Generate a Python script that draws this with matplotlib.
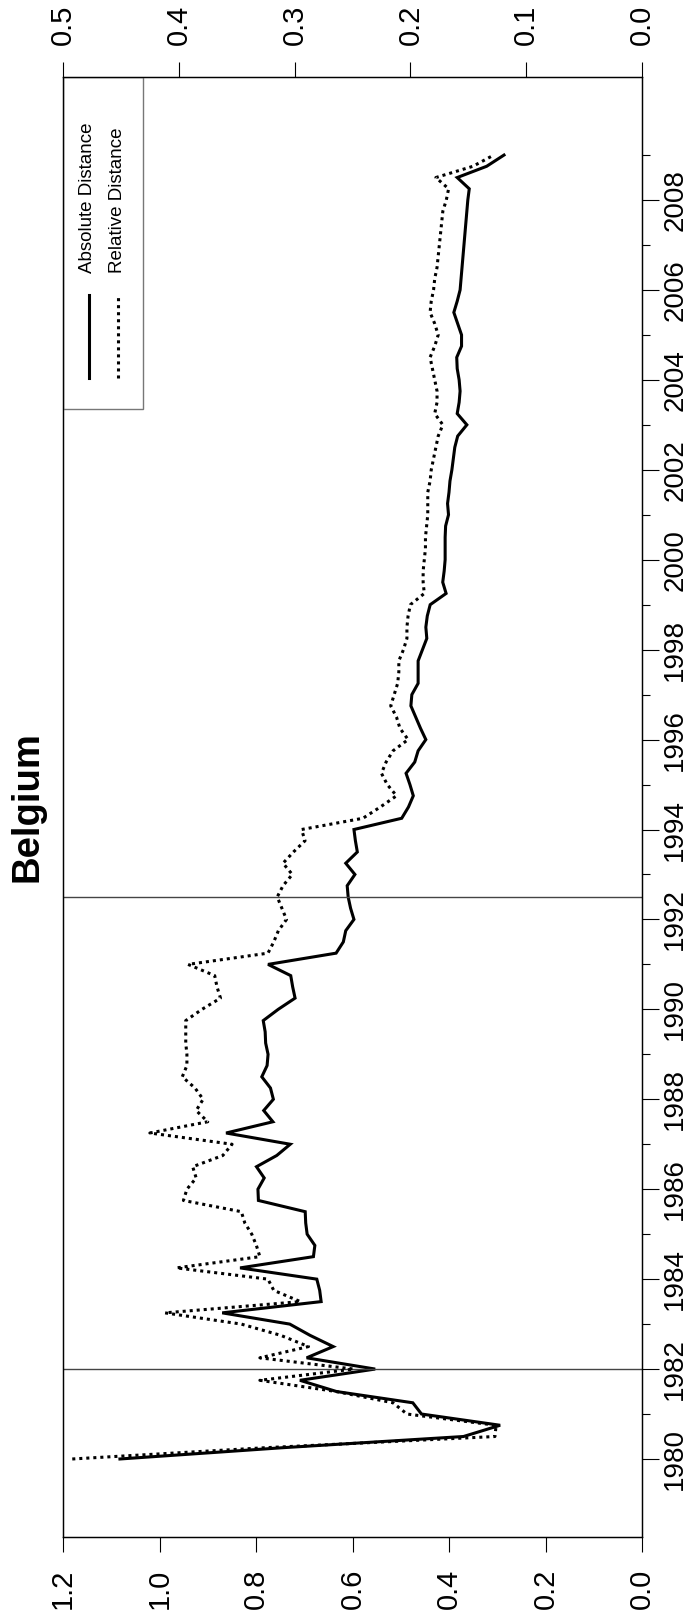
import numpy as np
import matplotlib
matplotlib.use("Agg")
import matplotlib.pyplot as plt
from matplotlib import font_manager
from matplotlib.patches import Rectangle
from matplotlib.lines import Line2D

# quarterly distances, 1980Q1 .. 2009Q1
absolute = [1.082, 0.746, 0.370, 0.294, 0.457, 0.475, 0.633, 0.709, 0.553, 0.695,
            0.640, 0.688, 0.730, 0.870, 0.665, 0.668, 0.674, 0.833, 0.681, 0.678,
            0.694, 0.697, 0.698, 0.795, 0.796, 0.783, 0.799, 0.757, 0.729, 0.862,
            0.765, 0.784, 0.764, 0.770, 0.788, 0.777, 0.775, 0.780, 0.781, 0.785,
            0.754, 0.719, 0.724, 0.728, 0.775, 0.634, 0.619, 0.614, 0.597, 0.604,
            0.609, 0.611, 0.595, 0.614, 0.590, 0.594, 0.597, 0.498, 0.484, 0.474,
            0.481, 0.489, 0.471, 0.464, 0.448, 0.459, 0.469, 0.479, 0.477, 0.464,
            0.464, 0.464, 0.455, 0.446, 0.448, 0.445, 0.439, 0.406, 0.413, 0.410,
            0.408, 0.408, 0.408, 0.407, 0.401, 0.403, 0.400, 0.398, 0.394, 0.391,
            0.388, 0.382, 0.363, 0.383, 0.379, 0.377, 0.379, 0.383, 0.384, 0.374,
            0.374, 0.382, 0.390, 0.383, 0.377, 0.375, 0.373, 0.371, 0.369, 0.367,
            0.365, 0.363, 0.361, 0.358, 0.383, 0.322, 0.286]
relative = [0.492, 0.326, 0.127, 0.126, 0.203, 0.215, 0.264, 0.330, 0.249, 0.330,
            0.288, 0.312, 0.346, 0.412, 0.295, 0.318, 0.323, 0.402, 0.330, 0.333,
            0.337, 0.343, 0.346, 0.396, 0.393, 0.385, 0.388, 0.362, 0.354, 0.425,
            0.375, 0.385, 0.379, 0.386, 0.397, 0.393, 0.393, 0.394, 0.394, 0.394,
            0.380, 0.364, 0.367, 0.369, 0.392, 0.323, 0.318, 0.314, 0.307, 0.311,
            0.315, 0.310, 0.302, 0.310, 0.301, 0.291, 0.294, 0.241, 0.226, 0.212,
            0.220, 0.225, 0.221, 0.215, 0.202, 0.209, 0.212, 0.217, 0.214, 0.211,
            0.210, 0.210, 0.206, 0.203, 0.203, 0.202, 0.200, 0.188, 0.189, 0.189,
            0.188, 0.187, 0.187, 0.186, 0.185, 0.185, 0.185, 0.183, 0.182, 0.180,
            0.178, 0.176, 0.172, 0.179, 0.177, 0.177, 0.179, 0.181, 0.183, 0.179,
            0.176, 0.179, 0.183, 0.182, 0.180, 0.179, 0.177, 0.176, 0.175, 0.174,
            0.173, 0.172, 0.169, 0.167, 0.178, 0.146, 0.128]
start_year = 1980
breaks = [1982.0, 1992.5]
left_ticks = [0.0, 0.2, 0.4, 0.6, 0.8, 1.0, 1.2]
right_ticks = [0.0, 0.1, 0.2, 0.3, 0.4, 0.5]
year_ticks = list(range(1980, 2009, 2))
year_minor = list(range(1981, 2010, 2))

quarter = start_year + np.arange(len(absolute)) / 4.0

names = {f.name for f in font_manager.fontManager.ttflist}
tick_font = 'Liberation Sans Narrow' if 'Liberation Sans Narrow' in names else 'Liberation Sans'
plt.rcParams['font.family'] = ['Liberation Sans', 'DejaVu Sans']

fig = plt.figure(figsize=(6.88, 16.19), dpi=100)
ax = fig.add_axes([63 / 688, 82 / 1619, 579 / 688, 1460 / 1619])

# the whole plot is laid on its side: time runs upward, values leftward
ax.plot(absolute, quarter, color='black', lw=2.2, solid_joinstyle='miter')
ax.set_xlim(1.2, 0.0)
ax.set_ylim(1978.265, 2010.736)
for b in breaks:
    ax.axhline(b, color='#444444', lw=1.0)

ax2 = ax.twiny()
ax2.plot(relative, quarter, color='black', lw=2.2, linestyle=(0, (1, 1.3)),
         dash_capstyle='butt')
ax2.set_xlim(0.5, 0.0)

for a in (ax, ax2):
    for s in a.spines.values():
        s.set_linewidth(0.9)
        s.set_color('black')

ax.set_xticks(left_ticks)
ax.set_xticklabels(['%.1f' % v for v in left_ticks], rotation=90,
                   fontsize=21, family=tick_font)
ax.tick_params(axis='x', direction='out', length=11, width=0.8, pad=12)

ax2.set_xticks(right_ticks)
ax2.set_xticklabels(['%.1f' % v for v in right_ticks], rotation=90,
                    fontsize=21, family=tick_font)
ax2.tick_params(axis='x', direction='out', length=11, width=0.8, pad=12)

ax.yaxis.tick_right()
ax.set_yticks(year_ticks)
ax.set_yticks(year_minor, minor=True)
ax.set_yticklabels([str(y) for y in year_ticks], rotation=90, va='center',
                   fontsize=20, family=tick_font)
ax.tick_params(axis='y', which='major', direction='out', length=12.5, width=0.8, pad=2)
ax.tick_params(axis='y', which='minor', direction='out', length=6, width=0.8)

# legend drawn by hand so it can stand on its side
ax.add_patch(Rectangle((0.0, 0.7726), 0.138, 0.2274, transform=ax.transAxes,
                       fill=False, edgecolor='#777777', lw=1.0, zorder=5))
ax.add_line(Line2D([0.0454, 0.0454], [0.7938, 0.8507], transform=ax.transAxes,
                   color='black', lw=2.2))
ax.add_line(Line2D([0.0955, 0.0955], [0.7938, 0.8507], transform=ax.transAxes,
                   color='black', lw=2.2, linestyle=(0, (1, 1.3))))
ax.text(0.043, 0.8658, 'Absolute Distance', transform=ax.transAxes, rotation=90,
        ha='center', va='bottom', fontsize=13.5)
ax.text(0.094, 0.8658, 'Relative Distance', transform=ax.transAxes, rotation=90,
        ha='center', va='bottom', fontsize=13.5)

fig.text(28 / 688, 1 - 807 / 1619, 'Belgium', rotation=90, ha='center', va='center',
         fontsize=27.5, fontweight='bold')

fig.savefig('out.png', dpi=100)
